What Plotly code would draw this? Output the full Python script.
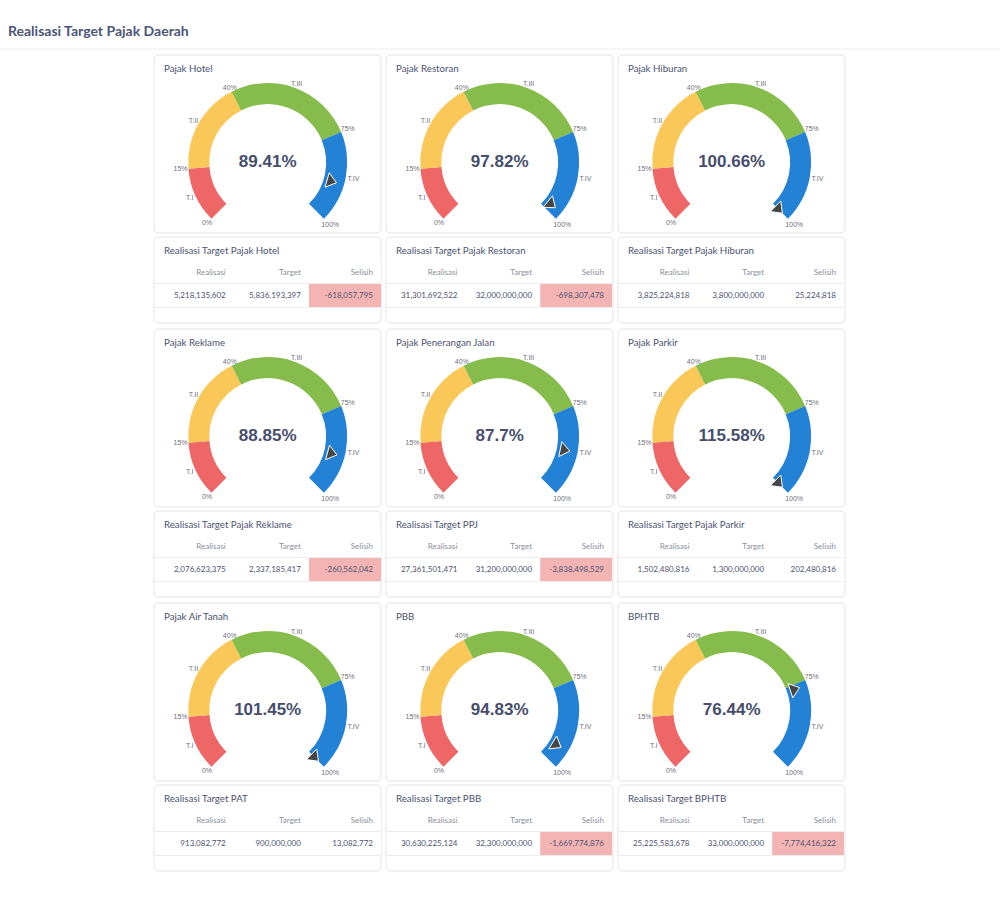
import plotly.graph_objects as go

W, H = 1000, 915

page_title = "Realisasi Target Pajak Daerah"
gauge_titles = ["Pajak Hotel", "Pajak Restoran", "Pajak Hiburan",
                "Pajak Reklame", "Pajak Penerangan Jalan", "Pajak Parkir",
                "Pajak Air Tanah", "PBB", "BPHTB"]
table_titles = ["Realisasi Target Pajak Hotel", "Realisasi Target Pajak Restoran",
                "Realisasi Target Pajak Hiburan", "Realisasi Target Pajak Reklame",
                "Realisasi Target PPJ", "Realisasi Target Pajak Parkir",
                "Realisasi Target PAT", "Realisasi Target PBB", "Realisasi Target BPHTB"]
percent = [89.41, 97.82, 100.66, 88.85, 87.7, 115.58, 101.45, 94.83, 76.44]
realisasi = [5218135602, 31301692522, 3825224818, 2076623375, 27361501471,
             1502480816, 913082772, 30630225124, 25225583678]
target = [5836193397, 32000000000, 3800000000, 2337185417, 31200000000,
          1300000000, 900000000, 32300000000, 33000000000]
selisih = [-618057795, -698307478, 25224818, -260562042, -3838498529,
           202480816, 13082772, -1669774876, -7774416322]
band_edges = [0, 15, 40, 75, 100]
band_names = ["T.I", "T.II", "T.III", "T.IV"]
band_colors = ["#ee6666", "#fac858", "#86bc4b", "#2381d6"]
column_labels = ["Realisasi", "Target", "Selisih"]

GAUGE_MAX = 100.0
SWEEP = 270.0
DEG = SWEEP / GAUGE_MAX

# layout geometry (pixels) and label radii (style constants)
cols_x = [154, 386, 618]
card_w = 227
gauge_tops = [55, 329, 603]
gauge_h = 178
table_off = 182
table_h = 86
R_OUT = 79.5
INNER = 0.735
RMAX = 1.28
EDGE_LABEL_R = [1.08, 1.1, 1.05, 1.09, 1.11]
NAME_LABEL_R = [1.08, 1.07, 1.05, 1.1]

TEXT_DARK = "#4a5372"
TEXT_GRAY = "#8a8f9c"
LABEL_GRAY = "#6e7079"
LINE = "#ececec"
PINK = "#f4b4b4"


def fx(x):
    return x / W


def fy(y):
    return 1 - y / H


def rrect(x0, y0, x1, y1, r=5):
    X0, X1 = fx(x0), fx(x1)
    Y0, Y1 = fy(y0), fy(y1)
    rx, ry = r / W, r / H
    return (f"M{X0+rx},{Y0} L{X1-rx},{Y0} Q{X1},{Y0} {X1},{Y0-ry} "
            f"L{X1},{Y1+ry} Q{X1},{Y1} {X1-rx},{Y1} L{X0+rx},{Y1} "
            f"Q{X0},{Y1} {X0},{Y1+ry} L{X0},{Y0-ry} Q{X0},{Y0} {X0+rx},{Y0} Z")


fig = go.Figure()
shapes = []
annotations = []
layout_polars = {}

annotations.append(dict(text=page_title, x=fx(6), y=fy(31), xref="paper", yref="paper",
                        xanchor="left", yanchor="middle", showarrow=False,
                        font=dict(family="Lato", size=14, color="#4b5677", weight="bold")))
shapes.append(dict(type="line", xref="paper", yref="paper", x0=0, x1=1, y0=fy(49), y1=fy(49),
                   line=dict(color="#eeeeee", width=1)))

for i in range(9):
    row, col = divmod(i, 3)
    x0 = cols_x[col]
    x1 = x0 + card_w
    gt = gauge_tops[row]
    tt = gt + table_off

    # cards
    for top, h in ((gt, gauge_h), (tt, table_h)):
        shapes.append(dict(type="path", path=rrect(x0, top, x1, top + h), xref="paper", yref="paper",
                           line=dict(color="#e4e4e4", width=1), fillcolor="white", layer="below"))

    annotations.append(dict(text=gauge_titles[i], x=fx(x0 + 8), y=fy(gt + 13), xref="paper", yref="paper",
                            xanchor="left", yanchor="middle", showarrow=False,
                            font=dict(family="Lato", size=9.7, color=TEXT_DARK)))
    annotations.append(dict(text=table_titles[i], x=fx(x0 + 8), y=fy(tt + 13), xref="paper", yref="paper",
                            xanchor="left", yanchor="middle", showarrow=False,
                            font=dict(family="Lato", size=9.7, color=TEXT_DARK)))

    # gauge
    sub = "polar" if i == 0 else f"polar{i+1}"
    cx = x0 + 113.7
    cy = gt + 107.5
    rd = R_OUT * RMAX
    layout_polars[sub] = dict(
        domain=dict(x=[fx(cx - rd), fx(cx + rd)], y=[fy(cy + rd), fy(cy - rd)]),
        bgcolor="rgba(0,0,0,0)",
        radialaxis=dict(range=[0, RMAX], visible=False),
        angularaxis=dict(visible=False, rotation=225, direction="clockwise", thetaunit="degrees"),
    )
    starts = band_edges[:-1]
    ends = band_edges[1:]
    fig.add_trace(go.Barpolar(
        subplot=sub,
        theta=[(a + b) / 2 * DEG for a, b in zip(starts, ends)],
        width=[(b - a) * DEG for a, b in zip(starts, ends)],
        r=[1 - INNER] * 4, base=[INNER] * 4,
        marker=dict(color=band_colors, line=dict(width=0)),
        showlegend=False, hoverinfo="skip"))
    # boundary labels
    fig.add_trace(go.Scatterpolar(
        subplot=sub, mode="text",
        theta=[e * DEG for e in band_edges], r=EDGE_LABEL_R,
        text=[f"{e}%" for e in band_edges],
        textfont=dict(family="Liberation Sans", size=7, color=LABEL_GRAY),
        showlegend=False, hoverinfo="skip", cliponaxis=False))
    # band name labels
    fig.add_trace(go.Scatterpolar(
        subplot=sub, mode="text",
        theta=[(a + b) / 2 * DEG for a, b in zip(starts, ends)], r=NAME_LABEL_R,
        text=band_names,
        textfont=dict(family="Liberation Sans", size=7, color=LABEL_GRAY),
        showlegend=False, hoverinfo="skip", cliponaxis=False))
    # pointer
    pv = min(percent[i], GAUGE_MAX)
    fig.add_trace(go.Scatterpolar(
        subplot=sub, mode="markers",
        theta=[pv * DEG], r=[0.82],
        marker=dict(symbol="triangle-up", size=13, color="#464646",
                    angle=pv * DEG - 135, line=dict(color="white", width=1)),
        showlegend=False, hoverinfo="skip"))
    # value text
    fig.add_trace(go.Scatterpolar(
        subplot=sub, mode="text", theta=[0], r=[0],
        text=[f"{percent[i]}%"],
        textfont=dict(family="Liberation Sans", size=17, color="#464e6c", weight="bold"),
        showlegend=False, hoverinfo="skip"))

    # table
    neg = selisih[i] < 0
    fig.add_trace(go.Table(
        domain=dict(x=[fx(x0 + 4), fx(x1)], y=[fy(tt + 78), fy(tt + 24)]),
        columnwidth=[1.05, 1.04, 1.0],
        header=dict(values=column_labels, align="right", height=23,
                    font=dict(family="Lato", size=8, color=TEXT_GRAY),
                    fill_color="white", line=dict(color="rgba(0,0,0,0)", width=0)),
        cells=dict(values=[[f"{realisasi[i]:,}"], [f"{target[i]:,}"], [f"{selisih[i]:,}"]],
                   align="right", height=23,
                   font=dict(family="Lato", size=8, color=TEXT_DARK),
                   fill_color=[["white"], ["white"], [PINK if neg else "white"]],
                   line=dict(color="rgba(0,0,0,0)", width=0))))
    for ly in (tt + 46.5, tt + 70.5):
        shapes.append(dict(type="line", xref="paper", yref="paper", x0=fx(x0), x1=fx(x1),
                           y0=fy(ly), y1=fy(ly), line=dict(color=LINE, width=1)))

fig.update_layout(
    width=W, height=H, margin=dict(l=0, r=0, t=0, b=0),
    paper_bgcolor="white", plot_bgcolor="white",
    shapes=shapes, annotations=annotations, showlegend=False,
    **layout_polars)

fig.write_html("out.html")
